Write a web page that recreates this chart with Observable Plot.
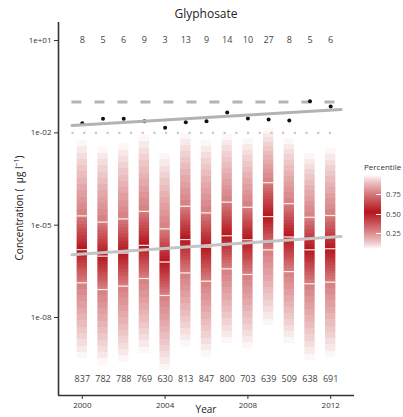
<!DOCTYPE html>
<html><head><meta charset="utf-8">
<script src="https://cdn.jsdelivr.net/npm/d3@7"></script>
<script src="https://cdn.jsdelivr.net/npm/@observablehq/plot@0.6"></script>
<style>
body{margin:0;background:#fff;font-family:"Open Sans",sans-serif;color:#333;}
#wrap{position:relative;width:403px;height:417px;overflow:hidden;background:#fff;}
#wrap svg{position:absolute;left:0;top:0;}
.title{position:absolute;left:0;width:412px;top:7px;text-align:center;font-size:12px;color:#222;line-height:14px;}
.ylab{position:absolute;left:19px;top:208px;transform:translate(-50%,-50%) rotate(-90deg);white-space:nowrap;font-size:10px;color:#222;}
.xlab{position:absolute;left:206px;top:403px;transform:translateX(-50%);font-size:10px;line-height:12px;color:#222;}
.legtitle{position:absolute;left:364px;top:161px;font-size:8px;color:#333;white-space:nowrap;}
.legbar{position:absolute;left:364px;top:175px;width:17px;height:74px;}
.leglab{position:absolute;left:386px;font-size:7.5px;color:#444;transform:translateY(-50%);}
.legtick{position:absolute;left:376px;width:5px;height:1px;background:#fff;}
</style></head><body><div id="wrap"></div>
<script>
// ---- data ----
const years      = [2000, 2001, 2002, 2003, 2004, 2005, 2006, 2007, 2008, 2009, 2010, 2011, 2012];
const pctTop     = [5.6e-3, 3.4e-3, 4.4e-3, 8.2e-3, 2.1e-3, 9.5e-3, 5.6e-3, 8.8e-3, 6.5e-3, 1.38e-2, 6.5e-3, 2.1e-3, 3.0e-3];
const pct75      = [2.0e-5, 1.25e-5, 1.6e-5, 2.8e-5, 7.6e-6, 4.1e-5, 2.5e-5, 5.6e-5, 3.8e-5, 2.4e-4, 5.0e-5, 1.8e-5, 2.06e-5];
const pct50      = [1.6e-6, 9.8e-7, 1.23e-6, 2.2e-6, 6.3e-7, 3.4e-6, 1.93e-6, 4.5e-6, 3.35e-6, 1.9e-5, 4.1e-6, 1.58e-6, 1.71e-6];
const pct25      = [1.34e-7, 8.1e-8, 1.04e-7, 1.85e-7, 5.2e-8, 2.8e-7, 1.51e-7, 3.8e-7, 2.5e-7, 1.58e-6, 3.1e-7, 1.25e-7, 1.4e-7];
const pctBottom  = [4.6e-10, 2.8e-10, 3.5e-10, 6.8e-10, 1.9e-10, 1.09e-9, 5.1e-10, 1.4e-9, 9.6e-10, 5.5e-9, 1.4e-9, 4.0e-10, 5.1e-10];
const maxima     = [0.0206, 0.0286, 0.0286, 0.0239, 0.0146, 0.0222, 0.0239, 0.0458, 0.0292, 0.0271, 0.0252, 0.1067, 0.0718];
const nDetected  = [8, 5, 6, 9, 3, 13, 9, 14, 10, 27, 8, 5, 6];
const nSamples   = [837, 782, 788, 769, 630, 813, 847, 800, 703, 639, 509, 638, 691];
const limitHigh  = 0.1;
const limitLow   = 0.01;
const trendYears = [1999.5, 2012.5];
const trendUpper = [0.0173, 0.0573];
const trendLower = [1.09e-6, 4.28e-6];
const countTopLevel = 10;
const countBottomLevel = 1e-10;
const yTicks = [10, 1e-2, 1e-5, 1e-8];
const xTicks = [2000, 2004, 2008, 2012];
const legendTicks = [0.75, 0.50, 0.25];

// ---- styling ----
const RED = "#b5161c";
const alpha = p => Math.max(0, Math.pow(Math.max(0, 1 - Math.abs(2 * p - 1)), 0.85));
const yDomain = [2.92e-11, 38.5];
const xDomain = [1998.85, 2013.15];
const halfW = 0.25;

const rows = years.map((y, i) => ({
  year: y, top: pctTop[i], q75: pct75[i], q50: pct50[i], q25: pct25[i], bottom: pctBottom[i],
  max: maxima[i], nd: nDetected[i], ns: nSamples[i]
}));
const trendU = trendYears.map((y, i) => ({year: y, value: trendUpper[i]}));
const trendL = trendYears.map((y, i) => ({year: y, value: trendLower[i]}));

// lightly stepped gradient for a quarter segment: starts at percentile pStart at the top
function gradientDef(id, pStart) {
  const nb = 12; let stops = "";
  for (let b = 0; b < nb; b++) {
    const p = pStart - 0.25 * (b + 0.5) / nb;
    const a = alpha(p).toFixed(3);
    stops += `<stop offset="${b / nb}" stop-color="${RED}" stop-opacity="${a}"/>`;
    stops += `<stop offset="${(b + 1) / nb}" stop-color="${RED}" stop-opacity="${a}"/>`;
  }
  return `<linearGradient id="${id}" x1="0" y1="0" x2="0" y2="1">${stops}</linearGradient>`;
}

const seg = (lo, hi, id) => Plot.rect(rows, {
  x1: d => d.year - halfW, x2: d => d.year + halfW, y1: lo, y2: hi, fill: `url(#${id})`
});
const qline = key => Plot.ruleY(rows, {
  y: key, x1: d => d.year - halfW, x2: d => d.year + halfW, stroke: "#fff", strokeWidth: 1.2, strokeOpacity: 0.85
});

const fmtY = d => { const e = Math.round(Math.log10(d)); return "1e" + (e < 0 ? "-" : "+") + String(Math.abs(e)).padStart(2, "0"); };

const chart = Plot.plot({
  width: 403, height: 417,
  marginTop: 22, marginBottom: 22, marginLeft: 58, marginRight: 49,
  style: {fontFamily: "'Open Sans', sans-serif", fontSize: "8px", color: "#333", background: "transparent"},
  x: {domain: xDomain, ticks: xTicks, tickFormat: d => String(d), tickSize: 4, tickPadding: 3, label: null},
  y: {type: "log", domain: yDomain, ticks: yTicks, tickFormat: fmtY, tickSize: 4, tickPadding: 3, label: null},
  marks: [
    seg("q75", "top", "gA"),
    seg("q50", "q75", "gB"),
    seg("q25", "q50", "gC"),
    seg("bottom", "q25", "gD"),
    qline("q75"), qline("q50"), qline("q25"),
    Plot.ruleY([limitLow], {x1: trendYears[0], x2: trendYears[1], stroke: "#c8c8c8", strokeWidth: 2.2, strokeDasharray: "2.2,9.5"}),
    Plot.ruleY([limitHigh], {x1: trendYears[0], x2: trendYears[1], stroke: "#b4b4b4", strokeWidth: 3, strokeDasharray: "10,13"}),
    Plot.dot(rows, {x: "year", y: "max", r: 2, fill: "#111", stroke: "none"}),
    Plot.line(trendU, {x: "year", y: "value", stroke: "#b3b3b3", strokeWidth: 3}),
    Plot.line(trendL, {x: "year", y: "value", stroke: "#c4c4c4", strokeWidth: 3}),
    Plot.text(rows, {x: "year", y: () => countTopLevel, text: d => String(d.nd), fontSize: 9, fill: "#444"}),
    Plot.text(rows, {x: "year", y: () => countBottomLevel, text: d => String(d.ns), fontSize: 9, fill: "#444"}),
    Plot.ruleX([xDomain[0]], {stroke: "#333", strokeWidth: 1.6}),
    Plot.ruleY([yDomain[0]], {stroke: "#333", strokeWidth: 1.6})
  ]
});

const svg = chart.tagName.toLowerCase() === "svg" ? chart : chart.querySelector("svg");
const defs = document.createElementNS("http://www.w3.org/2000/svg", "defs");
defs.innerHTML = gradientDef("gA", 1.0) + gradientDef("gB", 0.75) + gradientDef("gC", 0.5) + gradientDef("gD", 0.25);
svg.insertBefore(defs, svg.firstChild);

const wrap = document.getElementById("wrap");
wrap.appendChild(chart);

const add = (cls, html, style) => { const d = document.createElement("div"); d.className = cls; d.innerHTML = html; if (style) d.setAttribute("style", style); wrap.appendChild(d); return d; };
add("title", "Glyphosate");
add("ylab", "Concentration (&nbsp;&nbsp;μg l<sup style='font-size:7px'>−1</sup>)");
add("xlab", "Year");
add("legtitle", "Percentile");
// legend gradient: top = 1, bottom = 0
const lstops = d3.range(0, 1.0001, 0.05).map(t => `rgba(181,22,28,${alpha(1 - t).toFixed(3)}) ${(t * 100).toFixed(0)}%`).join(",");
add("legbar", "", `background:linear-gradient(to bottom, ${lstops});`);
const legScale = d3.scaleLinear().domain([1, 0]).range([175, 252]);
legendTicks.forEach(p => {
  add("leglab", p.toFixed(2), `top:${legScale(p)}px`);
  add("legtick", "", `top:${legScale(p)}px`);
});
</script></body></html>
